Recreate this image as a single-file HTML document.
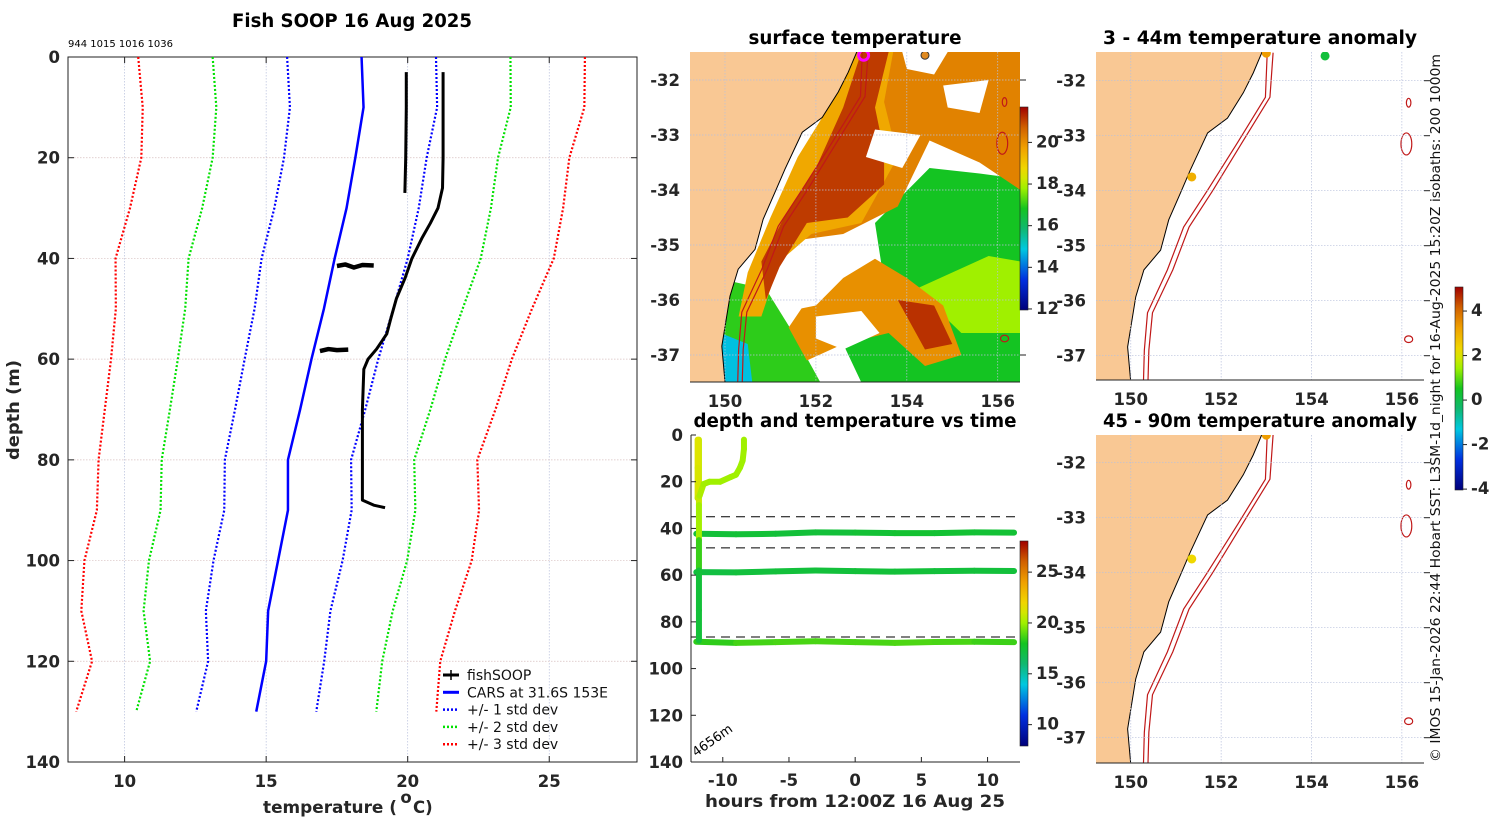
<!DOCTYPE html>
<html><head><meta charset="utf-8"><style>
html,body{margin:0;padding:0;background:#fff;}
svg{display:block;font-family:"DejaVu Sans","Liberation Sans",sans-serif;}
.tk{font-size:16.5px;font-weight:bold;fill:#262626;}
.ttl{font-size:18.5px;font-weight:bold;fill:#000;}
</style></head><body>
<svg id="fig" width="1500" height="820" viewBox="0 0 1500 820" xmlns="http://www.w3.org/2000/svg">
<g id="gProfile"></g>
<g id="gSST"></g>
<g id="gTime"></g>
<g id="gA1"></g>
<g id="gA2"></g>
<text x="1440" y="762" transform="rotate(-90 1440 762)" font-size="13" fill="#111" textLength="708" lengthAdjust="spacingAndGlyphs">© IMOS 15-Jan-2026 22:44 Hobart SST: L3SM-1d_night for 16-Aug-2025 15:20Z isobaths: 200  1000m</text>
</svg>
<script>
// ---------- profile chart data ----------
const depthLevels=[0,10,20,30,40,50,60,70,80,90,100,110,120,130];
const carsMean=[18.37,18.44,18.15,17.84,17.42,17.04,16.6,16.2,15.77,15.77,15.42,15.07,15.0,14.65];
const carsStd=[2.63,2.6,2.52,2.55,2.58,2.45,2.36,2.3,2.23,2.25,2.28,2.2,2.05,2.12];
const fishADepth=[3,10,20,27];
const fishATemp=[19.95,19.95,19.93,19.9];
const fishBDepth=[3,10,20,26,30,33,36,40,44,48,52,55,58,60,62,70,80,88,89,89.5];
const fishBTemp=[21.25,21.25,21.25,21.23,21.07,20.8,20.5,20.15,19.9,19.6,19.4,19.26,18.9,18.6,18.45,18.4,18.4,18.4,18.8,19.2];
const blob1Temp=[17.5,17.8,18.1,18.4,18.8];
const blob1Depth=[41.5,41.2,41.8,41.3,41.4];
const blob2Temp=[16.9,17.2,17.5,17.9];
const blob2Depth=[58.4,58.0,58.2,58.1];
const profXTicks=[10,15,20,25];
const profYTicks=[0,20,40,60,80,100,120,140];

// ---------- time chart data ----------
const castTime=[-11.9,-11.9,-11.9,-11.75,-11.45,-11.0,-10.2,-9.4,-9.0,-8.7,-8.5,-8.4,-8.4];
const castDepth=[2,14,27,26,21,20,20,18,17,14,11,6,2];
const castTemp=[21.3,21.2,21.0,20.4,20.1,20.0,20.0,20.0,20.0,20.0,20.0,20.0,20.0];
const downTime=[-11.8,-11.8,-11.8,-11.8,-11.8,-11.8];
const downDepth=[2,30,45,58,75,88];
const downTemp=[21.0,20.6,19.5,17.5,17.2,17.5];
const lineHours=[-12,-9,-6,-3,0,3,6,9,12];
const line42Depth=[42.3,42.5,42.3,41.7,41.8,42.0,42.0,41.7,41.8];
const line42Temp=[17.3,17.4,17.4,17.3,17.4,17.5,17.6,17.4,17.5];
const line58Depth=[58.7,58.8,58.4,58.0,58.3,58.5,58.3,58.1,58.2];
const line58Temp=[17.1,17.2,17.3,17.3,17.3,17.4,17.3,17.3,17.3];
const line88Depth=[88.5,89.0,88.7,88.3,88.7,89.0,88.6,88.5,88.7];
const line88Temp=[18.2,18.5,18.8,18.7,18.8,18.7,18.9,18.6,18.5];
const dashDepths=[35,48.3,86.5];
const timeXTicks=[-10,-5,0,5,10];
const timeYTicks=[0,20,40,60,80,100,120,140];

// ---------- map data ----------
const coastLon=[152.9,152.71,152.49,152.14,151.70,151.32,151.10,150.84,150.66,150.29,150.11,149.93,150.0];
const coastLat=[-31.49,-31.86,-32.22,-32.68,-32.95,-33.62,-34.04,-34.53,-35.08,-35.44,-35.93,-36.84,-37.49];
const iso200Lon=[153.02,152.98,152.36,151.70,151.17,150.81,150.37,150.30,150.28];
const iso200Lat=[-31.49,-32.3,-33.13,-33.99,-34.66,-35.44,-36.22,-36.9,-37.49];
const iso1000Lon=[153.15,153.08,152.46,151.82,151.29,150.93,150.48,150.40,150.38];
const iso1000Lat=[-31.49,-32.3,-33.13,-33.99,-34.66,-35.44,-36.22,-36.9,-37.49];
const mapLonTicks=[150,152,154,156];
const mapLatTicks=[-32,-33,-34,-35,-36,-37];
const anomA1Lon=[153.0,151.35,154.3];
const anomA1Lat=[-31.5,-33.75,-31.55];
const anomA1Val=[3.3,3.0,0.2];
const anomA2Lon=[153.0,151.35];
const anomA2Lat=[-31.5,-33.75];
const anomA2Val=[3.3,2.3];

const NS='http://www.w3.org/2000/svg';
function mk(tag,attrs,parent){const e=document.createElementNS(NS,tag);for(const k in attrs)e.setAttribute(k,attrs[k]);parent.appendChild(e);return e;}
const stops=[[0,[0,0,122]],[0.15,[0,48,224]],[0.3,[0,200,224]],[0.4,[16,184,112]],[0.5,[20,196,32]],[0.6,[160,240,0]],[0.68,[240,224,0]],[0.8,[240,160,0]],[0.9,[208,96,0]],[1,[160,0,0]]];
function cmap(t){t=Math.max(0,Math.min(1,t));for(let i=1;i<stops.length;i++){if(t<=stops[i][0]){const a=stops[i-1],b=stops[i];const f=(t-a[0])/(b[0]-a[0]);const c=a[1].map((v,j)=>Math.round(v+(b[1][j]-v)*f));return `rgb(${c[0]},${c[1]},${c[2]})`;}}return 'rgb(160,0,0)';}
function txt(p,x,y,s,cls,anchor,name,extra){const t=mk('text',Object.assign({x:x,y:y,'class':cls,'text-anchor':anchor||'middle'},extra||{}),p);t.textContent=s;return t;}
function colorbar(p,x,y0,y1,vmin,vmax,ticks,name){
  const g=mk('g',{},p);
  const id='grad'+name;const d=mk('defs',{},g);const lg=mk('linearGradient',{id:id,x1:0,y1:1,x2:0,y2:0},d);
  for(let i=0;i<=20;i++)mk('stop',{offset:i/20,'stop-color':cmap(i/20)},lg);
  mk('rect',{x:x,y:y0,width:8,height:y1-y0,fill:`url(#${id})`,stroke:'#222','stroke-width':0.6},g);
  ticks.forEach(v=>{const yy=y1-(v-vmin)/(vmax-vmin)*(y1-y0);mk('line',{x1:x+8,x2:x+12,y1:yy,y2:yy,stroke:'#222'},g);txt(g,x+16,yy+5,String(v),'tk','start','colorbar-tick',{'font-size':'15'});});
}

// ---------- PROFILE ----------
(function(){
  const g=document.getElementById('gProfile');
  const L=68,R=637,T=57,B=762,xmin=8,xmax=28.1,ymax=140;
  const X=v=>L+(v-xmin)/(xmax-xmin)*(R-L), Y=d=>T+d/ymax*(B-T);
  profXTicks.forEach(v=>{mk('line',{x1:X(v),x2:X(v),y1:T,y2:B,stroke:'#b8c0dc','stroke-width':0.7,'stroke-dasharray':'1.5 1.5'},g);mk('line',{x1:X(v),x2:X(v),y1:B,y2:B-6,stroke:'#222'},g);mk('line',{x1:X(v),x2:X(v),y1:T,y2:T+6,stroke:'#222'},g);txt(g,X(v),B+25,String(v),'tk','middle','x-tick-label');});
  profYTicks.forEach(v=>{mk('line',{x1:L,x2:R,y1:Y(v),y2:Y(v),stroke:'#d8c0c0','stroke-width':0.7,'stroke-dasharray':'1.5 1.5'},g);mk('line',{x1:L,x2:L+6,y1:Y(v),y2:Y(v),stroke:'#222'},g);mk('line',{x1:R,x2:R-6,y1:Y(v),y2:Y(v),stroke:'#222'},g);txt(g,L-8,Y(v)+6,String(v),'tk','end','y-tick-label');});
  mk('rect',{x:L,y:T,width:R-L,height:B-T,fill:'none',stroke:'#222','stroke-width':1},g);
  const pl=(xs,ds,col,w,dash,name)=>{const p=mk('polyline',{points:xs.map((v,i)=>X(v)+','+Y(ds[i])).join(' '),fill:'none',stroke:col,'stroke-width':w,'stroke-dasharray':dash||'none','stroke-linejoin':'round'},g);};
  [[3,'#ff0000','std3'],[2,'#00e000','std2'],[1,'#0000ff','std1']].forEach(([k,c,n])=>{
    pl(carsMean.map((m,i)=>m+k*carsStd[i]),depthLevels,c,2.2,'2 2',n+'-upper');
    pl(carsMean.map((m,i)=>m-k*carsStd[i]),depthLevels,c,2.2,'2 2',n+'-lower');});
  pl(carsMean,depthLevels,'#0000ff',2.5,null,'cars-mean-line');
  pl(fishATemp,fishADepth,'#000',3,null,'fishsoop-cast-1');
  pl(fishBTemp,fishBDepth,'#000',3,null,'fishsoop-cast-2');
  pl(blob1Temp,blob1Depth,'#000',4.5,null,'fishsoop-40m-trace');
  pl(blob2Temp,blob2Depth,'#000',4.5,null,'fishsoop-58m-trace');
  txt(g,352,27,'Fish SOOP 16 Aug 2025','ttl','middle','profile-title',{textLength:'240',lengthAdjust:'spacingAndGlyphs'});
  txt(g,68,47,'944 1015 1016 1036','', 'start','station-ids',{'font-size':'10','fill':'#000'});
  txt(g,263,813,'temperature (','tk','start','x-axis-title',{'font-size':'18.5',textLength:'134',lengthAdjust:'spacingAndGlyphs'});
  txt(g,406,803,'o','tk','middle','degree-sign',{'font-size':'12'});
  txt(g,413,813,'C)','tk','start','x-axis-unit',{'font-size':'18.5'});
  txt(g,19,410,'depth (m)','tk','middle','y-axis-title',{'font-size':'18.5',transform:'rotate(-90 19 410)',textLength:'100',lengthAdjust:'spacingAndGlyphs'});
  const leg=[['fishSOOP','#000',null],['CARS at 31.6S 153E','#0000ff',null],['+/- 1 std dev','#0000ff','2 2'],['+/- 2 std dev','#00e000','2 2'],['+/- 3 std dev','#ff0000','2 2']];
  leg.forEach((e,i)=>{const y=675+i*17.3;const lg=mk('g',{},g);
    mk('line',{x1:443,x2:459,y1:y,y2:y,stroke:e[1],'stroke-width':e[2]?2.5:3,'stroke-dasharray':e[2]||'none'},lg);
    if(i===0)mk('line',{x1:451,x2:451,y1:y-5,y2:y+5,stroke:'#000','stroke-width':1.5},lg);
    txt(lg,467,y+5,e[0],'', 'start','legend-label',{'font-size':'14','fill':'#111'});});
})();

// ---------- MAP helpers ----------
function makeMap(g,L,T,W,H,latTop,latTopPx){
  const lon0=149.23,lon1=156.49,pxPerLon=W/(lon1-lon0);
  const X=lon=>L+(lon-lon0)*pxPerLon, Y=lat=>latTopPx+(latTop-lat)*55;
  return {X,Y,L,T,W,H};
}
function drawMapBase(g,m,name){
  const cid='clip'+name;const d=mk('defs',{},g);const cp=mk('clipPath',{id:cid},d);mk('rect',{x:m.L,y:m.T,width:m.W,height:m.H},cp);
  return mk('g',{'clip-path':`url(#${cid})`},g);
}
function landPoly(inner,m){
  const pts=coastLon.map((v,i)=>m.X(v)+','+m.Y(coastLat[i]));
  pts.push(m.X(148)+','+m.Y(-38),m.X(148)+','+m.Y(-31));pts.unshift(m.X(152.9)+','+m.Y(-31));
  const p=mk('polygon',{points:pts.join(' '),fill:'#f9c894',stroke:'#000','stroke-width':1},inner);
  
}
function isobaths(inner,m){
  [[iso200Lon,iso200Lat],[iso1000Lon,iso1000Lat]].forEach(([lo,la],k)=>{const p=mk('polyline',{points:lo.map((v,i)=>m.X(v)+','+m.Y(la[i])).join(' '),fill:'none',stroke:'#c01818','stroke-width':1.2},inner);});
  [[156.15,-32.4,0.05,0.08],[156.1,-33.15,0.12,0.2],[156.15,-36.7,0.09,0.06]].forEach(([lo,la,rx,ry])=>{const e=mk('ellipse',{cx:m.X(lo),cy:m.Y(la),rx:rx*45,ry:ry*55,fill:'none',stroke:'#c01818','stroke-width':1.2},inner);});
}
function mapAxes(g,m){
  mapLonTicks.forEach(v=>{mk('line',{x1:m.X(v),x2:m.X(v),y1:m.T,y2:m.T+m.H,stroke:'#b8c0dc','stroke-width':0.7,'stroke-dasharray':'1.5 1.5'},g);txt(g,m.X(v),m.T+m.H+25,String(v),'tk','middle','lon-tick-label');});
  mapLatTicks.forEach(v=>{const y=m.Y(v);if(y<m.T||y>m.T+m.H)return;mk('line',{x1:m.L,x2:m.L+m.W,y1:y,y2:y,stroke:'#b8c0dc','stroke-width':0.7,'stroke-dasharray':'1.5 1.5'},g);mk('line',{x1:m.L+m.W,x2:m.L+m.W+6,y1:y,y2:y,stroke:'#222'},g);txt(g,m.L-10,y+6,String(v),'tk','end','lat-tick-label');});
  mk('line',{x1:m.L,x2:m.L+m.W,y1:m.T+m.H,y2:m.T+m.H,stroke:'#222'},g);
}

// ---------- SST MAP ----------
(function(){
  const g=document.getElementById('gSST');
  const m=makeMap(g,690,52,330,330,-32,80);
  const inner=drawMapBase(g,m,'sst');
  mk('rect',{x:m.L,y:m.T,width:m.W,height:m.H,fill:'#fff'},inner);
  const P=(arr,col,name)=>{const p=mk('polygon',{points:arr.map(a=>m.X(a[0])+','+m.Y(a[1])).join(' '),fill:col},inner);};
  const c=v=>cmap((v-11.95)/(21.7-11.95));
  P([[153.3,-34.6],[154.5,-33.6],[155.6,-33.7],[156.5,-33.8],[156.5,-37.5],[153.0,-37.5],[152.6,-36.8],[153.6,-36.2]],c(16.8),'sst-cool-water');
  P([[149.8,-35.6],[150.9,-35.8],[151.5,-36.6],[152.1,-37.5],[149.8,-37.5]],c(17),'sst-southwest-water');
  P([[149.9,-36.6],[150.5,-36.8],[150.6,-37.5],[149.9,-37.5]],c(14.8),'sst-coastal-cool');
  P([[154.2,-35.8],[155.8,-35.2],[156.5,-35.3],[156.5,-36.6],[155.2,-36.6]],c(17.8),'sst-yellowgreen');
  P([[153.6,-31.49],[156.5,-31.49],[156.5,-34.0],[155.6,-33.5],[154.5,-33.1],[153.8,-34.3],[152.6,-34.8],[151.7,-34.9],[152.6,-33.2]],c(20.2),'sst-warm-offshore');
  P([[152.7,-31.49],[153.7,-31.49],[153.5,-32.4],[153.8,-33.4],[153.0,-34.6],[151.9,-34.8],[151.2,-35.3],[150.8,-36.3],[150.3,-36.3],[150.5,-35.5],[151.0,-34.5],[151.6,-33.4],[152.2,-32.6]],c(19.6),'sst-coastal-band');
  P([[153.0,-31.49],[153.6,-31.49],[153.3,-32.5],[153.5,-33.3],[153.5,-33.9],[152.7,-34.5],[151.8,-34.6],[151.2,-35.4],[150.9,-36.0],[150.8,-35.3],[151.3,-34.5],[152.0,-33.6],[152.6,-32.5]],c(21.1),'sst-eac-core');
  P([[151.4,-36.5],[152.3,-35.4],[153.2,-35.2],[154.0,-35.6],[154.8,-36.1],[155.2,-37.0],[154.4,-37.2],[153.6,-36.6],[152.6,-36.8],[151.8,-37.1]],c(20.0),'sst-southern-eddy');
  P([[153.8,-36.0],[154.6,-36.1],[155.0,-36.8],[154.4,-36.9]],c(21.2),'sst-eddy-core');
  P([[151.4,-35.3],[152.3,-35.0],[153.2,-34.8],[153.4,-35.2],[152.6,-35.6],[152.0,-36.1],[151.4,-36.2]],'#ffffff','sst-cloud-central');
  P([[152.0,-36.3],[153.0,-36.2],[153.4,-36.6],[152.6,-36.9],[152.0,-36.7]],'#ffffff','sst-cloud-south');
  P([[153.9,-31.49],[154.9,-31.49],[154.6,-31.9],[154.0,-31.8]],'#ffffff','sst-cloud-north');
  P([[154.8,-32.1],[155.8,-32.0],[155.6,-32.6],[154.9,-32.5]],'#ffffff','sst-cloud-ne');
  P([[153.3,-32.9],[154.3,-33.0],[153.9,-33.6],[153.1,-33.4]],'#ffffff','sst-cloud-mid');
  landPoly(inner,m);isobaths(inner,m);
  const ring=mk('circle',{cx:m.X(153.05),cy:m.Y(-31.55),r:5,fill:'none',stroke:'#ff00ff','stroke-width':3},inner);
  const dot=mk('circle',{cx:m.X(154.4),cy:m.Y(-31.55),r:4,fill:'#e08a20',stroke:'#333'},inner);
  mapAxes(g,m);
  txt(g,855,44,'surface temperature','ttl','middle','sst-title',{textLength:'213',lengthAdjust:'spacingAndGlyphs'});
  colorbar(g,1020,107,310,11.95,21.7,[12,14,16,18,20],'sst-colorbar');
})();

// ---------- TIME CHART ----------
(function(){
  const g=document.getElementById('gTime');
  const L=691,R=1020,T=435,B=762,x0=-12.4,x1=12.45;
  const X=h=>L+(h-x0)/(x1-x0)*(R-L), Y=d=>T+d/140*(B-T);
  const c=v=>cmap((v-7.9)/(28.06-7.9));
  dashDepths.forEach(d=>{const l=mk('line',{x1:L,x2:R,y1:Y(d),y2:Y(d),stroke:'#000','stroke-width':1,'stroke-dasharray':'9 6'},g);});
  const track=(ts,ds,vs,name)=>{const tg=mk('g',{},g);
    for(let i=0;i<ts.length-1;i++)mk('line',{x1:X(ts[i]),y1:Y(ds[i]),x2:X(ts[i+1]),y2:Y(ds[i+1]),stroke:c((vs[i]+vs[i+1])/2),'stroke-width':6,'stroke-linecap':'round'},tg);};
  track(lineHours,line42Depth,line42Temp,'track-42m');
  track(lineHours,line58Depth,line58Temp,'track-58m');
  track(lineHours,line88Depth,line88Temp,'track-88m');
  track(downTime,downDepth,downTemp,'descent-track');
  track(castTime,castDepth,castTemp,'first-cast-track');
  mk('line',{x1:L,x2:L,y1:T,y2:B,stroke:'#222'},g);mk('line',{x1:L,x2:R,y1:B,y2:B,stroke:'#222'},g);
  timeXTicks.forEach(v=>{mk('line',{x1:X(v),x2:X(v),y1:B,y2:B-5,stroke:'#222'},g);txt(g,X(v),B+24,String(v),'tk','middle','time-tick-label');});
  timeYTicks.forEach(v=>{mk('line',{x1:L,x2:L+5,y1:Y(v),y2:Y(v),stroke:'#222'},g);txt(g,L-8,Y(v)+6,String(v),'tk','end','depth-tick-label');});
  txt(g,855,807,'hours from 12:00Z 16 Aug 25','tk','middle','time-axis-title',{'font-size':'18.5',textLength:'300',lengthAdjust:'spacingAndGlyphs'});
  txt(g,855,427,'depth and temperature vs time','ttl','middle','time-title',{textLength:'323',lengthAdjust:'spacingAndGlyphs'});
  txt(g,696,757,'4656m','', 'start','bottom-depth-label',{'font-size':'13','fill':'#000',transform:'rotate(-35 696 757)'});
  colorbar(g,1020,541,746,7.9,28.06,[10,15,20,25],'time-colorbar');
})();

// ---------- ANOMALY MAPS ----------
function anomMap(id,T,latTopPx,title,lons,lats,vals,name){
  const g=document.getElementById(id);
  const m=makeMap(g,1096,T,328,328,-32,latTopPx);
  const inner=drawMapBase(g,m,name);
  landPoly(inner,m);isobaths(inner,m);
  lons.forEach((lo,i)=>{const cc=mk('circle',{cx:m.X(lo),cy:m.Y(lats[i]),r:4.5,fill:cmap((vals[i]+4.04)/9.12)},inner);});
  mapAxes(g,m);
  txt(g,1260,T-8,title,'ttl','middle',name+'-title',{textLength:'314',lengthAdjust:'spacingAndGlyphs'});
}
anomMap('gA1',52,80.7,'3 - 44m temperature anomaly',anomA1Lon,anomA1Lat,anomA1Val,'anom1');
anomMap('gA2',435,462.7,'45 - 90m temperature anomaly',anomA2Lon,anomA2Lat,anomA2Val,'anom2');
colorbar(document.getElementById('fig'),1455,287,490,-4.04,5.08,[-4,-2,0,2,4],'anomaly-colorbar');
</script>
</body></html>
